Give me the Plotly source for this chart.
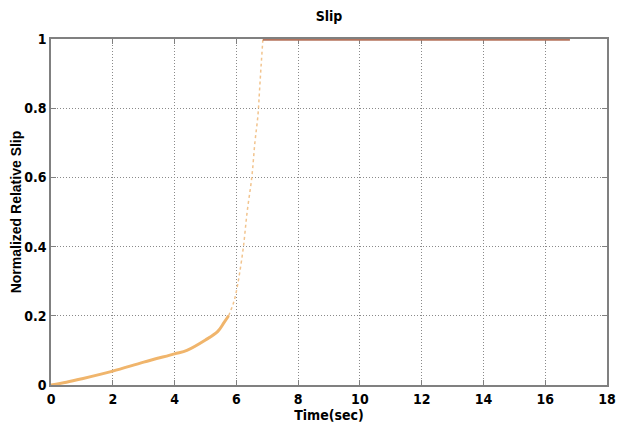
import plotly.graph_objects as go

# Rising phase (orange)
t_rise = [0, 0.5, 1, 2, 3, 4, 4.4, 5, 5.4, 5.6, 5.75]
s_rise = [0, 0.008, 0.018, 0.04, 0.066, 0.09, 0.1, 0.13, 0.155, 0.18, 0.2]
# Steep phase (thin orange)
t_steep = [5.75, 5.9, 6.0, 6.1, 6.23, 6.35, 6.5, 6.6, 6.7, 6.75, 6.8, 6.86]
s_steep = [0.2, 0.235, 0.27, 0.32, 0.4, 0.5, 0.6, 0.7, 0.78, 0.85, 0.92, 1.0]
# Saturated phase (brown)
t_flat = [6.86, 16.8]
s_flat = [1.0, 1.0]

x_ticks = [0, 2, 4, 6, 8, 10, 12, 14, 16, 18]
y_ticks = [0, 0.2, 0.4, 0.6, 0.8, 1]
y_tick_text = ["0", "0.2", "0.4", "0.6", "0.8", "1"]

fig = go.Figure()
fig.add_trace(go.Scatter(x=t_rise, y=s_rise, mode="lines",
                         line=dict(color="#F0B56C", width=3, shape="spline"),
                         showlegend=False, cliponaxis=False))
fig.add_trace(go.Scatter(x=t_steep, y=s_steep, mode="lines",
                         line=dict(color="#F2C48E", width=1.5, shape="spline", dash="dot"),
                         showlegend=False, cliponaxis=False))
fig.add_trace(go.Scatter(x=t_flat, y=s_flat, mode="lines",
                         line=dict(color="#B5735C", width=3.5),
                         showlegend=False, cliponaxis=False))

narrow = "DejaVu Sans Condensed, Liberation Sans Narrow, Arial Narrow, sans-serif"
tickfont = dict(family=narrow, size=14, color="black", weight="bold")

# page body adds an 8px offset; figure is sized to fill the remaining window
W, H = 619, 422
L, R, T, B = 43, 20, 31, 45

fig.update_layout(
    width=W, height=H,
    margin=dict(l=L, r=R, t=T, b=B, autoexpand=False),
    paper_bgcolor="white", plot_bgcolor="white",
    title=dict(text="Slip", x=(L + (W - R)) / 2 / W, xanchor="center", y=1 - 8 / H, yanchor="middle",
               font=dict(family=narrow, size=14, color="black", weight="bold")),
    xaxis=dict(range=[0, 18], tickvals=x_ticks, ticktext=[str(v) for v in x_ticks],
               showgrid=True, gridcolor="#8a8a8a", griddash="1px,2px", gridwidth=1,
               ticks="inside", ticklen=5, tickcolor="#808080",
               showline=True, linecolor="#808080", linewidth=1.5, mirror="ticks",
               zeroline=False, tickfont=tickfont, automargin=False, layer="below traces",
               title=dict(text="Time(sec)", standoff=2,
                          font=dict(family=narrow, size=14, color="black", weight="bold"))),
    yaxis=dict(range=[0, 1], tickvals=y_ticks, ticktext=y_tick_text,
               showgrid=True, gridcolor="#8a8a8a", griddash="1px,2px", gridwidth=1,
               ticks="inside", ticklen=5, tickcolor="#808080",
               showline=True, linecolor="#808080", linewidth=1.5, mirror="ticks",
               zeroline=False, tickfont=tickfont, automargin=False, layer="below traces",
               title=dict(text="<b>Normalized Relative Slip</b>", standoff=4,
                          font=dict(family="Liberation Sans, Arial", size=14, color="black"))),
)

fig.write_html("out.html")
